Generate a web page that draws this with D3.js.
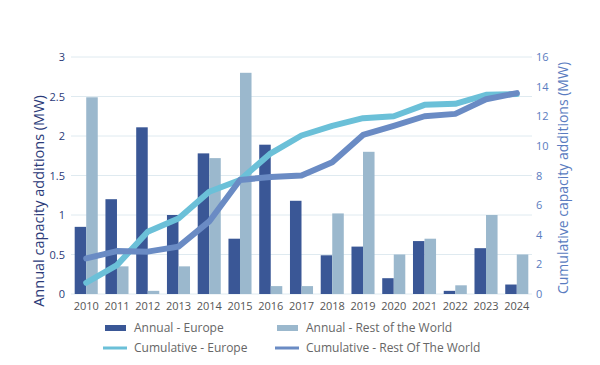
<!DOCTYPE html>
<html lang="en">
<head>
<meta charset="utf-8">
<title>Capacity additions</title>
<script src="https://cdn.jsdelivr.net/npm/d3@7"></script>
<style>
  body { margin: 0; background: #fff; }
  text { font-family: "Open Sans", sans-serif; }
</style>
</head>
<body>
<div id="chart"></div>
<script>
// data
var years = ["2010","2011","2012","2013","2014","2015","2016","2017","2018","2019","2020","2021","2022","2023","2024"];
var annualEurope = [0.85, 1.2, 2.11, 1.0, 1.78, 0.7, 1.89, 1.18, 0.49, 0.6, 0.2, 0.67, 0.04, 0.58, 0.12];
var annualRow = [2.49, 0.35, 0.04, 0.35, 1.72, 2.8, 0.1, 0.1, 1.02, 1.8, 0.5, 0.7, 0.11, 1.0, 0.5];
var cumEurope = [0.76, 1.95, 4.2, 5.1, 6.9, 7.7, 9.5, 10.7, 11.35, 11.87, 12.0, 12.77, 12.84, 13.45, 13.5];
var cumRow = [2.4, 2.9, 2.86, 3.2, 4.9, 7.7, 7.9, 8.0, 8.9, 10.74, 11.35, 12.0, 12.16, 13.15, 13.56];
var leftTicks = [0, 0.5, 1, 1.5, 2, 2.5, 3];
var rightTicks = [0, 2, 4, 6, 8, 10, 12, 14, 16];

var w = 600, h = 365;
var plotL = 71, plotR = 532, plotT = 57, plotB = 294;

var svg = d3.select("#chart").append("svg")
  .attr("width", w).attr("height", h);

var x = d3.scaleBand().domain(years).range([plotL, plotR]).paddingInner(0.25).paddingOuter(0.12);
var xSub = d3.scaleBand().domain(["eu", "row"]).range([0, x.bandwidth()]);
var yL = d3.scaleLinear().domain([0, 3]).range([plotB, plotT]);
var yR = d3.scaleLinear().domain([0, 16]).range([plotB, plotT]);

// gridlines
svg.append("g").selectAll("line").data(leftTicks).enter().append("line")
  .attr("x1", plotL).attr("x2", plotR)
  .attr("y1", function(d){ return yL(d) }).attr("y2", function(d){ return yL(d) })
  .attr("stroke", "#dfeaf0").attr("stroke-width", 1);

// left axis
var axL = svg.append("g").attr("transform", "translate(" + (plotL - 3) + ",0)")
  .call(d3.axisLeft(yL).tickValues(leftTicks).tickSize(0).tickFormat(d3.format("~g")));
axL.select(".domain").remove();
axL.selectAll("text").attr("fill", "#2b3a78").style("font-size", "11px");

// right axis
var axR = svg.append("g").attr("transform", "translate(" + (plotR + 1) + ",0)")
  .call(d3.axisRight(yR).tickValues(rightTicks).tickSize(0));
axR.select(".domain").remove();
axR.selectAll("text").attr("fill", "#5a7cc0").style("font-size", "11px");

// bars
var grp = svg.append("g").selectAll("g").data(years).enter().append("g")
  .attr("transform", function(d){ return "translate(" + x(d) + ",0)" });
grp.append("rect")
  .attr("x", xSub("eu")).attr("width", xSub.bandwidth())
  .attr("y", function(d, i){ return yL(annualEurope[i]) })
  .attr("height", function(d, i){ return plotB - yL(annualEurope[i]) })
  .attr("fill", "#3a5796");
grp.append("rect")
  .attr("x", xSub("row")).attr("width", xSub.bandwidth())
  .attr("y", function(d, i){ return yL(annualRow[i]) })
  .attr("height", function(d, i){ return plotB - yL(annualRow[i]) })
  .attr("fill", "#9bb8cd");

// x axis
var axX = svg.append("g").attr("transform", "translate(0," + plotB + ")")
  .call(d3.axisBottom(x).tickSize(0).tickPadding(8));
axX.select(".domain").remove();
axX.selectAll("text").attr("fill", "#555").style("font-size", "11px");

// lines
var cx = function(d, i){ return x(years[i]) + x.bandwidth() / 2 };
var lineGen = d3.line().x(cx).y(function(d){ return yR(d) });
svg.append("path").datum(cumEurope).attr("d", lineGen)
  .attr("fill", "none").attr("stroke", "#6bc0d8").attr("stroke-width", 6)
  .attr("stroke-linecap", "round").attr("stroke-linejoin", "round");
svg.append("path").datum(cumRow).attr("d", lineGen)
  .attr("fill", "none").attr("stroke", "#6a8bc4").attr("stroke-width", 6)
  .attr("stroke-linecap", "round").attr("stroke-linejoin", "round");

// axis titles
svg.append("text").attr("transform", "translate(44,201) rotate(-90)")
  .attr("text-anchor", "middle").attr("fill", "#2b3a78").style("font-size", "14.5px")
  .text("Annual capacity additions (MW)");
svg.append("text").attr("transform", "translate(568,178) rotate(-90)")
  .attr("text-anchor", "middle").attr("fill", "#5a7cc0").style("font-size", "14px")
  .text("Cumulative capacity additions (MW)");

// legend
var legend = [
  {name: "Annual - Europe", color: "#3a5796", type: "bar", x: 105, y: 328},
  {name: "Annual - Rest of the World", color: "#9bb8cd", type: "bar", x: 277, y: 328},
  {name: "Cumulative - Europe", color: "#6bc0d8", type: "line", x: 105, y: 348},
  {name: "Cumulative - Rest Of The World", color: "#6a8bc4", type: "line", x: 277, y: 348}
];
var lg = svg.append("g").selectAll("g").data(legend).enter().append("g")
  .attr("transform", function(d){ return "translate(" + d.x + "," + d.y + ")" });
lg.append("rect")
  .attr("x", function(d){ return d.type == "bar" ? 0 : -2 })
  .attr("width", function(d){ return d.type == "bar" ? 21 : 24 })
  .attr("y", function(d){ return d.type == "bar" ? -3 : -1.5 })
  .attr("height", function(d){ return d.type == "bar" ? 6 : 3 })
  .attr("fill", function(d){ return d.color });
lg.append("text").attr("x", 29).attr("dy", "0.35em")
  .attr("fill", "#666").style("font-size", "12px")
  .text(function(d){ return d.name });
</script>
</body>
</html>
